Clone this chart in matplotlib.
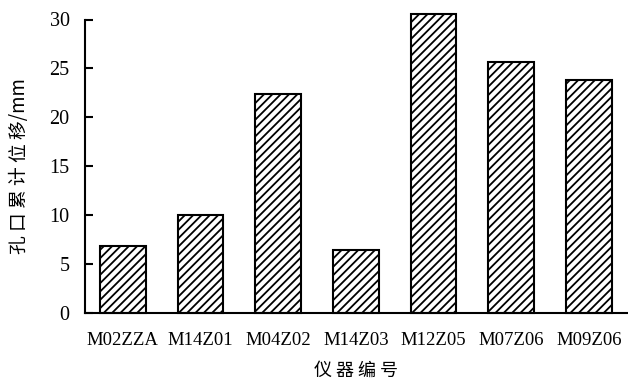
import matplotlib
matplotlib.use("Agg")
import matplotlib.pyplot as plt

# Cumulative orifice displacement per instrument
instruments = ["M02ZZA", "M14Z01", "M04Z02", "M14Z03", "M12Z05", "M07Z06", "M09Z06"]
displacement_mm = [6.8, 10.0, 22.4, 6.4, 30.6, 25.6, 23.8]
y_ticks = [0, 5, 10, 15, 20, 25, 30]

plt.rcParams["hatch.linewidth"] = 1.3
serif = ["Liberation Serif", "DejaVu Serif"]
cjk = ["Noto Sans CJK SC", "DejaVu Sans"]

fig = plt.figure(figsize=(6.28, 3.79), dpi=100)
ax = fig.add_axes([85 / 628, 1 - 312.5 / 379, (627 - 85) / 628, (312.5 - 19.5) / 379])

x = range(len(instruments))
bars = ax.bar(x, displacement_mm, width=0.59, color="white", edgecolor="black",
              linewidth=1.5, hatch="////", clip_on=False, zorder=2)

ax.set_xlim(-0.487, len(instruments) - 1 + 0.49)
ax.set_ylim(0, 30)
ax.set_yticks(y_ticks)
ax.set_yticklabels([str(v) for v in y_ticks], family=serif, fontsize=14.5)
ax.set_xticks(list(x))
ax.set_xticklabels(instruments, family=serif, fontsize=13.5)

ax.tick_params(axis="y", direction="in", length=6, width=1.5, pad=11)
ax.tick_params(axis="x", length=0, pad=14)

for side in ("top", "right"):
    ax.spines[side].set_visible(False)
for side in ("left", "bottom"):
    ax.spines[side].set_linewidth(1.5)

ax.set_ylabel("孔 口 累 计 位 移/mm", family=cjk, fontsize=13.5, labelpad=14)
ax.set_xlabel("仪 器 编 号", family=cjk, fontsize=13, labelpad=9)

fig.savefig("out.png", dpi=100)
